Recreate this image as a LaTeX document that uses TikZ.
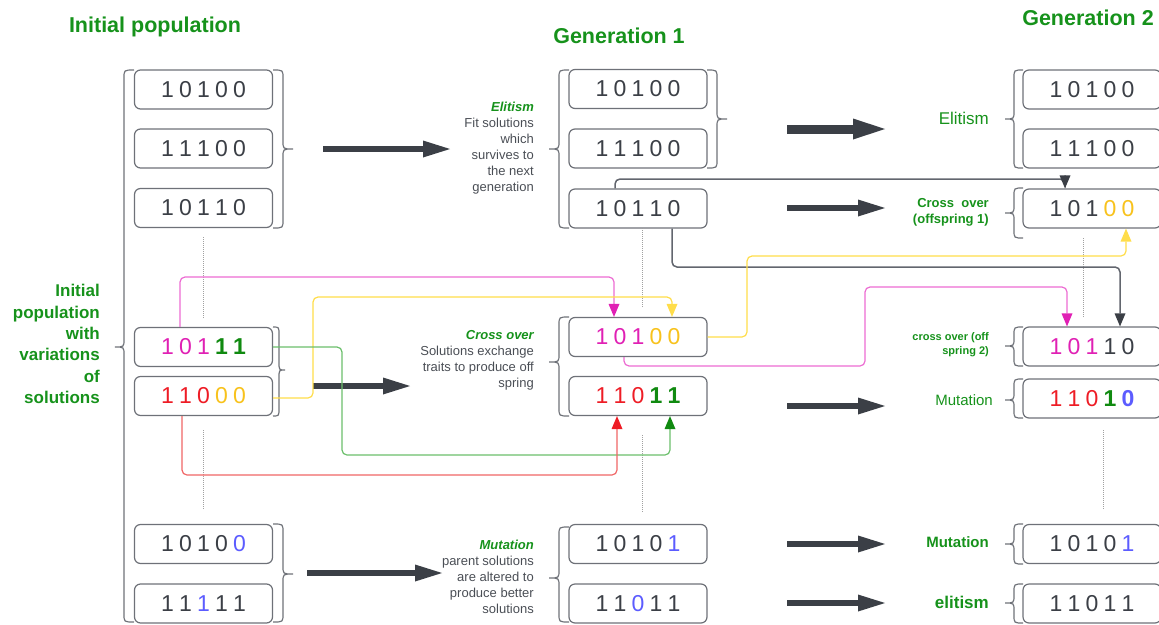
\documentclass[tikz,border=0pt]{standalone}
\usepackage{fontspec}
\setmainfont{Liberation Sans}
\usetikzlibrary{arrows.meta}
\definecolor{boxc}{HTML}{6E7178}
\definecolor{dark}{HTML}{3B3F46}
\definecolor{grn}{HTML}{16921B}
\definecolor{dgrn}{HTML}{108A10}
\definecolor{pnk}{HTML}{E020B4}
\definecolor{pnkl}{HTML}{EC6CD2}
\definecolor{ylw}{HTML}{F8C21C}
\definecolor{ylwl}{HTML}{FFDD4A}
\definecolor{red1}{HTML}{EE1C25}
\definecolor{redl}{HTML}{F06666}
\definecolor{grnl}{HTML}{6BBF6B}
\definecolor{blu}{HTML}{5C5CFF}
\definecolor{txt}{HTML}{4A4E55}
\definecolor{dotc}{HTML}{A0A0A0}
\definecolor{conng}{HTML}{62666E}
\newcommand\dg[2]{\makebox[18pt]{\textcolor{#1}{#2}}}
\newcommand\dgb[2]{\makebox[18pt]{\textcolor{#1}{\bfseries #2}}}
\newcommand\pl[5]{\dg{dark}{#1}\dg{dark}{#2}\dg{dark}{#3}\dg{dark}{#4}\dg{dark}{#5}}
\newcommand\mybrace[6]{\draw[brc] (#1,#4) .. controls (#2,#4) .. (#2,{#4+8}) -- (#2,{#6-8}) .. controls (#2,#6) .. (#3,#6) .. controls (#2,#6) .. (#2,{#6+8}) -- (#2,{#5-8}) .. controls (#2,#5) .. (#1,#5);}
\tikzset{
  bx/.style={draw=boxc, line width=1.2pt, rounded corners=6pt, minimum width=138pt, minimum height=39pt, inner sep=0pt, fill=white, font=\fontsize{23}{23}\selectfont, text=dark},
  brc/.style={draw=boxc, line width=1.2pt},
  big/.style={line width=6.5pt, draw=dark, -{Triangle[length=27pt,width=17pt,line width=0pt]}},
  bigger/.style={line width=9pt, draw=dark, -{Triangle[length=32pt,width=21pt,line width=0pt]}},
  conn/.style={line width=1.2pt, rounded corners=5pt},
  dotl/.style={draw=dotc, line width=1pt, densely dotted},
  lab/.style={inner sep=0pt, anchor=east, align=right, text=txt, font=\fontsize{13}{16}\selectfont},
  glab/.style={inner sep=0pt, anchor=east, align=right, text=grn},
  head/.style={inner sep=0pt, text=grn, font=\fontsize{21.5}{24}\selectfont\bfseries},
}
\begin{document}
\begin{tikzpicture}[x=1pt,y=-1pt]
\useasboundingbox (0,0) rectangle (1159,624);
\clip (0,0) rectangle (1159,624);
% headings
\node[head] (h1) at (155,27) {Initial population};
\node[head] (h2) at (619,36) {Generation 1};
\node[head] (h3) at (1088,18) {Generation 2};
\node[glab, font=\fontsize{17}{21.3}\selectfont\bfseries] (ipl) at (100,344) {Initial\\population\\with\\variations\\of\\solutions};
% column 1
\node[bx] (b1) at (203.5,89.5) {\pl10100};
\node[bx] (b2) at (203.5,148.5) {\pl11100};
\node[bx] (b3) at (203.5,208) {\pl10110};
\node[bx] (b4) at (203.5,347) {\dg{pnk}{1}\dg{pnk}{0}\dg{pnk}{1}\dgb{dgrn}{1}\dgb{dgrn}{1}};
\node[bx] (b5) at (203.5,396) {\dg{red1}{1}\dg{red1}{1}\dg{red1}{0}\dg{ylw}{0}\dg{ylw}{0}};
\node[bx] (b6) at (203.5,544) {\dg{dark}{1}\dg{dark}{0}\dg{dark}{1}\dg{dark}{0}\dg{blu}{0}};
\node[bx] (b7) at (203.5,603.5) {\dg{dark}{1}\dg{dark}{1}\dg{blu}{1}\dg{dark}{1}\dg{dark}{1}};
% column 2
\node[bx] (g1a) at (638,89) {\pl10100};
\node[bx] (g1b) at (638,148.5) {\pl11100};
\node[bx] (g1c) at (638,208.5) {\pl10110};
\node[bx] (g1d) at (638,337) {\dg{pnk}{1}\dg{pnk}{0}\dg{pnk}{1}\dg{ylw}{0}\dg{ylw}{0}};
\node[bx] (g1e) at (638,396) {\dg{red1}{1}\dg{red1}{1}\dg{red1}{0}\dgb{dgrn}{1}\dgb{dgrn}{1}};
\node[bx] (g1f) at (638,544) {\dg{dark}{1}\dg{dark}{0}\dg{dark}{1}\dg{dark}{0}\dg{blu}{1}};
\node[bx] (g1g) at (638,603.5) {\dg{dark}{1}\dg{dark}{1}\dg{blu}{0}\dg{dark}{1}\dg{dark}{1}};
% column 3
\node[bx] (g2a) at (1092,89.5) {\pl10100};
\node[bx] (g2b) at (1092,148.5) {\pl11100};
\node[bx] (g2c) at (1092,208.5) {\dg{dark}{1}\dg{dark}{0}\dg{dark}{1}\dg{ylw}{0}\dg{ylw}{0}};
\node[bx] (g2d) at (1092,346.5) {\dg{pnk}{1}\dg{pnk}{0}\dg{pnk}{1}\dg{dark}{1}\dg{dark}{0}};
\node[bx] (g2e) at (1092,398.5) {\dg{red1}{1}\dg{red1}{1}\dg{red1}{0}\dgb{dgrn}{1}\dgb{blu}{0}};
\node[bx] (g2f) at (1092,544) {\dg{dark}{1}\dg{dark}{0}\dg{dark}{1}\dg{dark}{0}\dg{blu}{1}};
\node[bx] (g2g) at (1092,603.5) {\pl11011};
% braces
\mybrace{134}{124}{115}{70}{622}{347}
\mybrace{273}{283}{293}{70}{228}{149}
\mybrace{273}{279}{285}{327}{416}{370}
\mybrace{273}{283}{293}{524}{622}{574}
\mybrace{569}{559}{549}{70}{228}{149}
\mybrace{707}{717}{727}{70}{168}{119}
\mybrace{569}{559}{549}{317}{416}{362}
\mybrace{569}{559}{549}{527}{622}{578}
\mybrace{1023}{1014}{1005}{70}{168}{119}
\mybrace{1023}{1014}{1005}{188}{238}{213}
\mybrace{1023}{1014}{1005}{327}{366}{346}
\mybrace{1023}{1014}{1005}{379}{418}{400}
\mybrace{1023}{1014}{1005}{524}{564}{544}
\mybrace{1023}{1014}{1005}{584}{623}{603}
% dotted
\draw[dotl] (203,237) -- (203,318);
\draw[dotl] (203,430) -- (203,510);
\draw[dotl] (642,228) -- (642,307);
\draw[dotl] (642,435) -- (642,513);
\draw[dotl] (1083,238) -- (1083,318);
\draw[dotl] (1103,430) -- (1103,510);
% descriptive labels
\node[lab] (elit) at (534,148) {{\bfseries\itshape\color{grn}Elitism}\\Fit solutions\\which\\survives to\\the next\\generation};
\node[lab] (cross) at (534,360) {{\bfseries\itshape\color{grn}Cross over}\\Solutions exchange\\traits to produce off\\spring};
\node[lab] (mut) at (534,577) {{\bfseries\itshape\color{grn}Mutation}\\parent solutions\\are altered to\\produce better\\solutions};
\node[glab, font=\fontsize{17}{20}\selectfont] (l1) at (989,118) {Elitism};
\node[glab, font=\fontsize{13}{16}\selectfont\bfseries] (l2) at (989,212) {Cross\ \ over\\(offspring 1)};
\node[glab, font=\fontsize{11}{14}\selectfont\bfseries] (l3) at (989,345) {cross over (off\\spring 2)};
\node[glab, font=\fontsize{15}{18}\selectfont] (l4) at (993,400) {Mutation};
\node[glab, font=\fontsize{15}{18}\selectfont\bfseries] (l5) at (989,542) {Mutation};
\node[glab, font=\fontsize{17}{20}\selectfont\bfseries] (l6) at (989,602) {elitism};
% thick arrows
\coordinate (a1s) at (323,149); \coordinate (a1e) at (450,149);
\coordinate (a2s) at (313,386); \coordinate (a2e) at (410,386);
\coordinate (a3s) at (307,573); \coordinate (a3e) at (442,573);
\coordinate (a4s) at (787,129); \coordinate (a4e) at (885,129);
\coordinate (a5s) at (787,208); \coordinate (a5e) at (885,208);
\coordinate (a6s) at (787,406); \coordinate (a6e) at (885,406);
\coordinate (a7s) at (787,544); \coordinate (a7e) at (885,544);
\coordinate (a8s) at (787,603); \coordinate (a8e) at (885,603);
\draw[big] (a1s) -- (a1e);
\draw[big] (a2s) -- (a2e);
\draw[big] (a3s) -- (a3e);
\draw[bigger] (a4s) -- (a4e);
\draw[big] (a5s) -- (a5e);
\draw[big] (a6s) -- (a6e);
\draw[big] (a7s) -- (a7e);
\draw[big] (a8s) -- (a8e);
% bend coordinates
\coordinate (p1) at (180,277); \coordinate (p2) at (614,277);
\coordinate (y1) at (313,297); \coordinate (y2) at (672,297);
\coordinate (q1) at (342,455); \coordinate (q2) at (670,455);
\coordinate (r1) at (182,475); \coordinate (r2) at (617,475);
\coordinate (k1) at (615,179); \coordinate (k2) at (1065,179);
\coordinate (k3) at (672,267); \coordinate (k4) at (1120,267);
\coordinate (y3) at (747,256); \coordinate (y4) at (1126,256);
\coordinate (p3) at (624,366); \coordinate (p4) at (865,366);
\coordinate (p5) at (865,287); \coordinate (p6) at (1067,287);
% connectors
\draw[conn, draw=pnkl, -{Triangle[length=13pt,width=11pt,line width=0pt,color=pnk]}] (b4.north -| p1) -- (p1) -- (p2) -- (g1d.north -| p2);
\draw[conn, draw=ylwl, -{Triangle[length=13pt,width=11pt,line width=0pt,color=ylwl]}] ([yshift=-2pt]b5.east) -| (y1) -- (y2) -- (g1d.north -| y2);
\draw[conn, draw=grnl, -{Triangle[length=13pt,width=11pt,line width=0pt,color=dgrn]}] (b4.east) -| (q1) -- (q2) -- (g1e.south -| q2);
\draw[conn, draw=redl, -{Triangle[length=13pt,width=11pt,line width=0pt,color=red1]}] (b5.south -| r1) -- (r1) -- (r2) -- (g1e.south -| r2);
\draw[conn, draw=conng, line width=1.5pt, -{Triangle[length=13pt,width=11pt,line width=0pt,color=dark]}] (g1c.north -| k1) -- (k1) -- (k2) -- (g2c.north -| k2);
\draw[conn, draw=conng, line width=1.5pt, -{Triangle[length=13pt,width=11pt,line width=0pt,color=dark]}] (g1c.south -| k3) -- (k3) -- (k4) -- (g2d.north -| k4);
\draw[conn, draw=ylwl, -{Triangle[length=13pt,width=11pt,line width=0pt,color=ylwl]}] (g1d.east) -| (y3) -- (y4) -- (g2c.south -| y4);
\draw[conn, draw=pnkl, -{Triangle[length=13pt,width=11pt,line width=0pt,color=pnk]}] (g1d.south -| p3) -- (p3) -- (p4) -- (p5) -- (p6) -- (g2d.north -| p6);
\end{tikzpicture}
\end{document}
